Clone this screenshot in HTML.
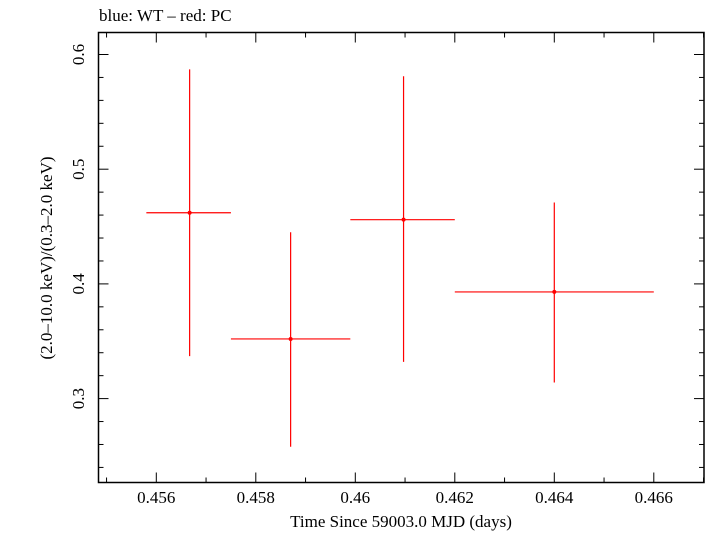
<!DOCTYPE html>
<html><head><meta charset="utf-8"><style>
body{margin:0;background:#fff;}
svg text{font-family:"Liberation Serif",serif;fill:#000;}
</style></head><body>
<svg width="705" height="532">
<text x="99" y="21" font-size="17">blue: WT – red: PC</text>
<rect x="98.5" y="32.5" width="605.5" height="450" fill="none" stroke="#000" stroke-width="1.5"/>
<g id="ticks"></g>
<g id="marks"></g>
<text x="401" y="527" font-size="17" text-anchor="middle">Time Since 59003.0 MJD (days)</text>
<text transform="translate(52,258) rotate(-90)" font-size="17" text-anchor="middle">(2.0–10.0 keV)/(0.3–2.0 keV)</text>
</svg>
<script>
const xCenters=[0.45667,0.45870,0.46097,0.46400];
const xLo=[0.4558,0.4575,0.4599,0.4620];
const xHi=[0.4575,0.4599,0.4620,0.4660];
const yVals=[0.462,0.352,0.456,0.393];
const yLo=[0.337,0.258,0.332,0.314];
const yHi=[0.587,0.445,0.581,0.471];
const xTicks=[0.456,0.458,0.46,0.462,0.464,0.466];
const xTickLabels=["0.456","0.458","0.46","0.462","0.464","0.466"];
const yTicks=[0.3,0.4,0.5,0.6];
const yTickLabels=["0.3","0.4","0.5","0.6"];
const X0=98.5,X1=704,Y0=482.5,Y1=32.5;
function sx(v){return 156.3+(v-0.456)*49750;}
function sy(v){return 398.6-(v-0.3)*1147;}
const NS="http://www.w3.org/2000/svg";
function mk(tag,attrs,parent){const e=document.createElementNS(NS,tag);for(const k in attrs)e.setAttribute(k,attrs[k]);parent.appendChild(e);return e;}
const tg=document.getElementById('ticks');
for(let i=0;i<=12;i++){
 const v=0.455+i*0.001;const x=sx(v);if(x<X0||x>X1)continue;
 const major=Math.abs(((v-0.456)/0.002)-Math.round((v-0.456)/0.002))<1e-6;
 const L=major?10:5;
 const t1=mk('line',{x1:x,x2:x,y1:Y0,y2:Y0-L,stroke:'#000','stroke-width':1},tg);
 
 
 const t2=mk('line',{x1:x,x2:x,y1:Y1,y2:Y1+L,stroke:'#000','stroke-width':1},tg);
 
 
}
xTicks.forEach((v,i)=>{
 const t=mk('text',{x:sx(v),y:503,'font-size':17,'text-anchor':'middle'},tg);t.textContent=xTickLabels[i];
 
 
});
for(let i=0;i<=20;i++){
 const v=0.22+i*0.02;const y=sy(v);if(y>Y0||y<Y1)continue;
 const major=Math.abs(v*10-Math.round(v*10))<1e-6;
 const L=major?10:5;
 const t1=mk('line',{x1:X0,x2:X0+L,y1:y,y2:y,stroke:'#000','stroke-width':1},tg);
 
 
 const t2=mk('line',{x1:X1,x2:X1-L,y1:y,y2:y,stroke:'#000','stroke-width':1},tg);
 
 
}
yTicks.forEach((v,i)=>{
 const t=mk('text',{transform:`translate(84,${sy(v)}) rotate(-90)`,'font-size':17,'text-anchor':'middle'},tg);t.textContent=yTickLabels[i];
 
 
});
const mg=document.getElementById('marks');
xCenters.forEach((xc,i)=>{
 const g=mk('g',{},mg);
 
 
 mk('line',{x1:sx(xLo[i]),x2:sx(xHi[i]),y1:sy(yVals[i]),y2:sy(yVals[i]),stroke:'#f00','stroke-width':1.2},g);
 mk('line',{x1:sx(xc),x2:sx(xc),y1:sy(yLo[i]),y2:sy(yHi[i]),stroke:'#f00','stroke-width':1.2},g);
 mk('circle',{cx:sx(xc),cy:sy(yVals[i]),r:2,fill:'#f00'},g);
});
</script>
</body></html>
